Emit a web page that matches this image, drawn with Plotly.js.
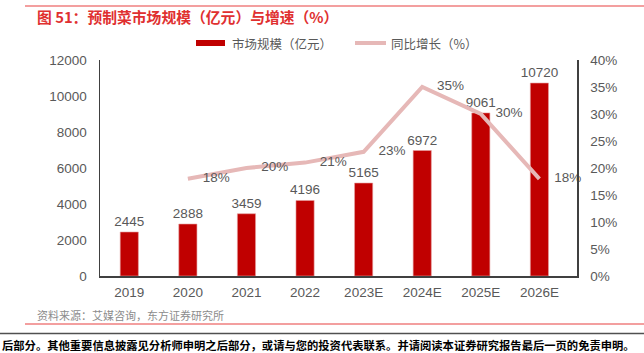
<!DOCTYPE html>
<html><head><meta charset="utf-8">
<script src="https://cdn.plot.ly/plotly-3.0.1.min.js"></script>
<style>html,body{margin:0;padding:0;background:#fff}#c{width:644px;height:353px}</style>
</head><body><div id="c"></div>
<script>
const years = ['2019','2020','2021','2022','2023E','2024E','2025E','2026E'];
const marketSize = [2445, 2888, 3459, 4196, 5165, 6972, 9061, 10720];
const growthYears = ['2020','2021','2022','2023E','2024E','2025E','2026E'];
const growthPct = [18, 20, 21, 23, 35, 30, 18];
const barName = '市场规模（亿元）';
const lineName = '同比增长（%）';

const font = '"Liberation Sans", Arial, "Noto Sans CJK SC", sans-serif';
const cjk = '"Noto Sans CJK SC", sans-serif';
const gray = '#595959';
const barColor = '#C00000';
const lineColor = '#E6B8B7';

const traces = [
  {type:'bar', x: years, y: marketSize, name: barName, width: 0.31,
   marker:{color:barColor, line:{color:'#E6A0A0', width:0.6}},
   text: marketSize.map(String), textposition:'outside', cliponaxis:false, constraintext:'none',
   textfont:{family:font, size:13.5, color:gray}, hoverinfo:'none'},
  {type:'scatter', mode:'lines+markers+text', x: growthYears, y: growthPct.map(v=>v/100), yaxis:'y2', name: lineName,
   line:{color:lineColor, width:4}, marker:{size:22, color:'rgba(0,0,0,0)'},
   text: growthPct.map(v=>v+'%'), textposition:'middle right', cliponaxis:false,
   textfont:{family:font, size:13.5, color:gray}, hoverinfo:'none'}
];

const py = p => (276 - p) / 216;
const px = p => (p - 100) / 477;

const layout = {
  width:644, height:353, margin:{l:100, r:67, t:60, b:77},
  paper_bgcolor:'#fff', plot_bgcolor:'#fff',
  font:{family:font, color:gray, size:13},
  showlegend:false,
  bargap:0.5,
  xaxis:{type:'category', categoryorder:'array', categoryarray: years, showgrid:false, zeroline:false,
         showline:true, linecolor:'#404040', linewidth:1.5, ticks:'', ticklabelstandoff:3,
         tickfont:{family:font, size:13.5, color:gray}},
  yaxis:{range:[0,12000], dtick:2000, showgrid:false, zeroline:false, showline:true, linecolor:'#404040', linewidth:1.5,
         ticks:'', ticklabelstandoff:9, tickfont:{family:font, size:13.5, color:gray}, tickformat:'d'},
  yaxis2:{overlaying:'y', side:'right', range:[0,0.4], dtick:0.05, tickformat:'.0%', showgrid:false, zeroline:false,
          showline:true, linecolor:'#404040', linewidth:1.5, ticks:'', ticklabelstandoff:9,
          tickfont:{family:font, size:13.5, color:gray}},
  shapes:[
    {type:'line', xref:'paper', yref:'paper', x0:px(25), x1:px(644), y0:py(6), y1:py(6), line:{color:'#E84040', width:1.2}},
    {type:'line', xref:'paper', yref:'paper', x0:px(25), x1:px(644), y0:py(324), y1:py(324), line:{color:'#E84040', width:1.2}},
    {type:'line', xref:'paper', yref:'paper', x0:px(0), x1:px(644), y0:py(333.5), y1:py(333.5), line:{color:'#505050', width:1.5}},
    {type:'rect', xref:'paper', yref:'paper', x0:px(196), x1:px(225), y0:py(46), y1:py(40), fillcolor:barColor, line:{width:0}},
    {type:'line', xref:'paper', yref:'paper', x0:px(355), x1:px(386), y0:py(43), y1:py(43), line:{color:lineColor, width:4}}
  ],
  annotations:[
    {xref:'paper', yref:'paper', x:px(35), y:py(17), xanchor:'left', yanchor:'middle', showarrow:false,
     text:'<b>图 51：预制菜市场规模（亿元）与增速（%）</b>', font:{family:cjk, size:14.8, color:'#E03030'}},
    {xref:'paper', yref:'paper', x:px(230), y:py(43), xanchor:'left', yanchor:'middle', showarrow:false,
     text:barName, font:{family:cjk, size:12.5, color:gray}},
    {xref:'paper', yref:'paper', x:px(389), y:py(43), xanchor:'left', yanchor:'middle', showarrow:false,
     text:lineName, font:{family:cjk, size:12.5, color:gray}},
    {xref:'paper', yref:'paper', x:px(35), y:py(315), xanchor:'left', yanchor:'middle', showarrow:false,
     text:'资料来源：艾媒咨询，东方证券研究所', font:{family:cjk, size:11, color:'#8C8C8C'}},
    {xref:'paper', yref:'paper', x:px(0), y:py(345), xanchor:'left', yanchor:'middle', showarrow:false,
     text:'<b>后部分。其他重要信息披露见分析师申明之后部分，或请与您的投资代表联系。并请阅读本证券研究报告最后一页的免责申明。</b>',
     font:{family:cjk, size:11.3, color:'#000'}}
  ]
};
Plotly.newPlot('c', traces, layout, {staticPlot:true, displayModeBar:false});
</script></body></html>
